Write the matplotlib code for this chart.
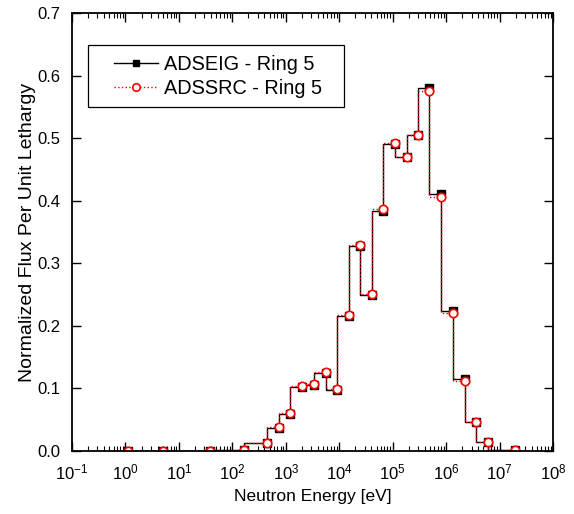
import numpy as np
import matplotlib
matplotlib.use('Agg')
import matplotlib.pyplot as plt
from matplotlib.patches import Rectangle
from matplotlib.ticker import LogLocator, MultipleLocator, FormatStrFormatter, FixedFormatter

plt.rcParams['font.family'] = ['Liberation Sans', 'DejaVu Sans']
plt.rcParams['mathtext.fontset'] = 'custom'
plt.rcParams['mathtext.rm'] = 'Liberation Sans'
plt.rcParams['mathtext.it'] = 'Liberation Sans'

# energy group upper bounds (eV)
energy = [1.13, 5.1, 37.7, 166, 452, 748, 1200, 2040, 3370, 5580, 9230,
          15070, 24500, 41100, 66800, 109000, 183000, 298000, 479000,
          804000, 1.33e6, 2.23e6, 3.63e6, 6.0e6, 1.95e7]
# flux per unit lethargy
adseig = [0.0, 0.0, 0.0, 0.001, 0.012, 0.037, 0.059, 0.103, 0.106, 0.125,
          0.098, 0.215, 0.328, 0.250, 0.384, 0.490, 0.470, 0.505, 0.580,
          0.410, 0.224, 0.115, 0.046, 0.014, 0.001]
adssrc = [0.0, 0.0, 0.0, 0.001, 0.0123, 0.038, 0.060, 0.104, 0.107, 0.127,
          0.0996, 0.217, 0.330, 0.251, 0.386, 0.492, 0.470, 0.505, 0.576,
          0.406, 0.221, 0.112, 0.047, 0.0144, 0.001]
decades = [-1, 0, 1, 2, 3, 4, 5, 6, 7, 8]

fig = plt.figure(figsize=(5.74, 5.14), dpi=100)
ax = fig.add_axes([0.1254, 0.1226, 0.838, 0.8521])

ax.plot(energy, adseig, drawstyle='steps-pre', color='black', lw=1.0,
        marker='s', ms=5.5, mfc='black', mec='black', label='ADSEIG - Ring 5')
ax.plot(energy, adssrc, drawstyle='steps-pre', color='red', lw=1.0, ls=':',
        marker='o', ms=6, mfc='white', mec='red', mew=1.2,
        label='ADSSRC - Ring 5')

ax.set_xscale('log')
ax.set_xlim(1e-1, 1e8)
ax.set_ylim(0, 0.7)
ax.set_xticks([10.0 ** d for d in decades])
ax.xaxis.set_major_formatter(FixedFormatter(['$10^{%d}$' % d for d in decades]))
ax.xaxis.set_minor_locator(LogLocator(base=10, subs=np.arange(2, 10), numticks=20))
ax.yaxis.set_major_locator(MultipleLocator(0.1))
ax.yaxis.set_major_formatter(FormatStrFormatter('%.1f'))

ax.tick_params(which='both', direction='in', top=True, right=True, labelsize=12)
ax.tick_params(which='major', length=6.5, width=1.0)
ax.tick_params(which='minor', length=3.5, width=0.8)
ax.tick_params(axis='x', which='major', pad=8)
ax.tick_params(axis='y', which='major', pad=8)
for s in ax.spines.values():
    s.set_linewidth(1.3)

ax.set_xlabel('Neutron Energy [eV]', fontsize=12.5, labelpad=5)
ax.set_ylabel('Normalized Flux Per Unit Lethargy', fontsize=14, labelpad=1)

# legend box
ax.add_patch(Rectangle((0.0333, 0.785), 0.532, 0.142, transform=ax.transAxes,
                       facecolor='white', edgecolor='black', lw=0.9, zorder=4))
leg = ax.legend(loc='center left', bbox_to_anchor=(0.0873, 0.856), fontsize=14.3,
                frameon=False, borderpad=0, borderaxespad=0, handlelength=2.2,
                handletextpad=0.3, labelspacing=0.25, markerscale=0.9)
leg.set_zorder(5)

fig.savefig('out.png', dpi=100)
